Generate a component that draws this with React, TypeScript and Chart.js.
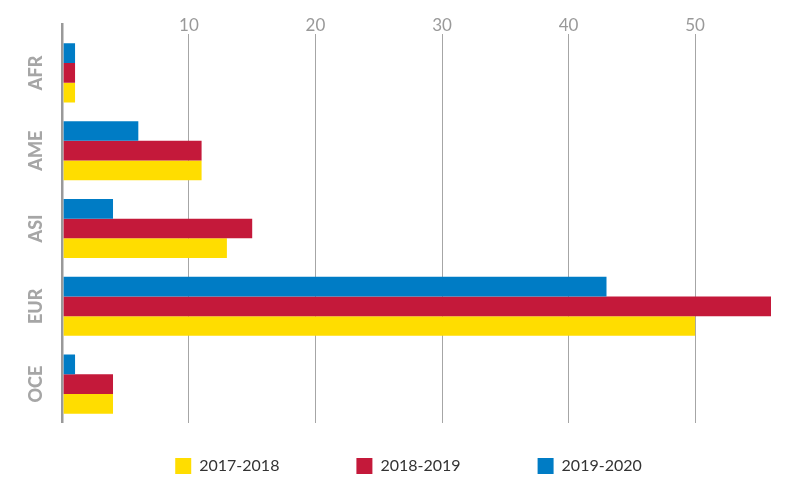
import React, { useEffect, useRef } from 'react';
import { Chart, registerables } from 'chart.js';

Chart.register(...registerables);

const categories = ['AFR', 'AME', 'ASI', 'EUR', 'OCE'];
const seriesLabels = ['2017-2018', '2018-2019', '2019-2020'];
const values1718 = [1, 11, 13, 50, 4];
const values1819 = [1, 11, 15, 56, 4];
const values1920 = [1, 6, 4, 43, 1];
const seriesColors = ['#FFDD00', '#C4193A', '#007CC5'];
const axisMax = 56;
const tickStep = 10;

const FONT = 'Lato, "Open Sans", sans-serif';
const LEGEND_LIFT = 42;
const LEGEND_SHIFT = 19;

const legendLift = {
  id: 'legendLift',
  afterLayout(chart: any) {
    const l = chart.legend;
    if (l) {
      l.top -= LEGEND_LIFT;
      l.left += LEGEND_SHIFT;
      l.right += LEGEND_SHIFT;
    }
  },
};

export default function App() {
  const ref = useRef<HTMLCanvasElement | null>(null);

  useEffect(() => {
    if (!ref.current) return;
    const seriesValues = [values1718, values1819, values1920];
    const order = [2, 1, 0];
    const datasets = order.map((i) => ({
      label: seriesLabels[i],
      data: seriesValues[i],
      backgroundColor: seriesColors[i],
      borderWidth: 0,
      categoryPercentage: 0.76,
      barPercentage: 1,
    }));

    const isZero = (c: any) => c.tick && c.tick.value === 0;

    const chart = new Chart(ref.current, {
      type: 'bar',
      data: { labels: categories, datasets },
      plugins: [legendLift],
      options: {
        indexAxis: 'y',
        animation: false,
        responsive: true,
        maintainAspectRatio: false,
        layout: { padding: { left: 0, right: 10, top: 0, bottom: 0 } },
        plugins: {
          tooltip: { enabled: false },
          legend: {
            position: 'bottom',
            reverse: true,
            maxHeight: 54,
            labels: {
              boxWidth: 16,
              boxHeight: 16,
              padding: 77,
              color: '#333333',
              font: { family: FONT, size: 16 },
            },
          },
        },
        scales: {
          x: {
            position: 'top',
            min: 0,
            max: axisMax,
            afterFit: (s: any) => {
              s.height = 26;
            },
            border: { display: false },
            grid: {
              color: (c: any) => (isZero(c) ? '#999999' : '#a6a6a6'),
              lineWidth: (c: any) => (isZero(c) ? 2.5 : 1),
              tickColor: (c: any) => (isZero(c) ? '#999999' : 'rgba(0,0,0,0)'),
              tickWidth: (c: any) => (isZero(c) ? 2.5 : 1),
              tickLength: 11,
              drawTicks: true,
            },
            ticks: {
              stepSize: tickStep,
              includeBounds: false,
              padding: -13,
              color: '#999999',
              font: { family: FONT, size: 17 },
              callback: (v: any) => (v === 0 ? '' : String(v)),
            },
          },
          y: {
            afterFit: (s: any) => {
              s.width = 54.4;
            },
            border: { display: false },
            grid: { display: false },
            ticks: {
              autoSkip: false,
              minRotation: 90,
              maxRotation: 90,
              crossAlign: 'center',
              padding: -2,
              color: '#a6a6a6',
              font: { family: FONT, size: 18, weight: 900 },
            },
          },
        },
      },
    } as any);

    return () => chart.destroy();
  }, []);

  return (
    <div style={{ position: 'relative', width: '100%', height: 469 }}>
      <canvas ref={ref} />
    </div>
  );
}
